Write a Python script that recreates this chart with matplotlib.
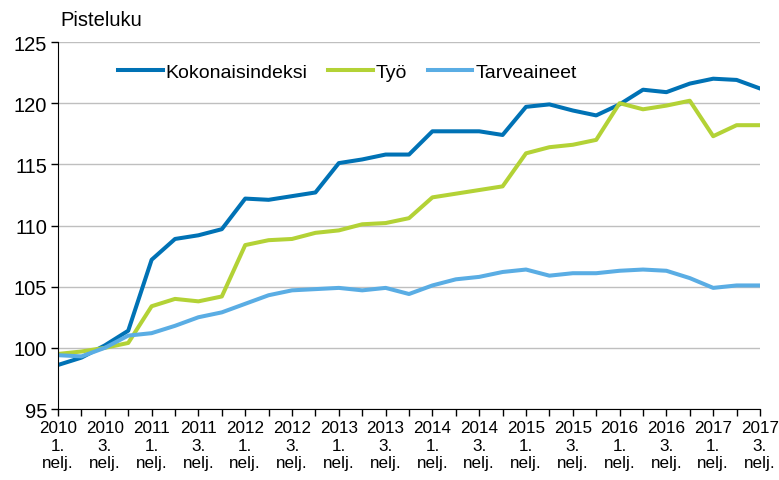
import matplotlib.pyplot as plt

plt.rcParams['font.family'] = ['Liberation Sans', 'DejaVu Sans']

# Neljännekset 2010 Q1 - 2017 Q3
years = list(range(2010, 2018))
quarters = [(y, q) for y in years for q in (1, 2, 3, 4)][:31]

kokonais = [98.6, 99.2, 100.2, 101.4,
            107.2, 108.9, 109.2, 109.7,
            112.2, 112.1, 112.4, 112.7,
            115.1, 115.4, 115.8, 115.8,
            117.7, 117.7, 117.7, 117.4,
            119.7, 119.9, 119.4, 119.0,
            119.9, 121.1, 120.9, 121.6,
            122.0, 121.9, 121.2]
tyo = [99.5, 99.7, 100.0, 100.4,
       103.4, 104.0, 103.8, 104.2,
       108.4, 108.8, 108.9, 109.4,
       109.6, 110.1, 110.2, 110.6,
       112.3, 112.6, 112.9, 113.2,
       115.9, 116.4, 116.6, 117.0,
       120.0, 119.5, 119.8, 120.2,
       117.3, 118.2, 118.2]
tarveaineet = [99.4, 99.3, 100.0, 101.0,
               101.2, 101.8, 102.5, 102.9,
               103.6, 104.3, 104.7, 104.8,
               104.9, 104.7, 104.9, 104.4,
               105.1, 105.6, 105.8, 106.2,
               106.4, 105.9, 106.1, 106.1,
               106.3, 106.4, 106.3, 105.7,
               104.9, 105.1, 105.1]

tick_labels = [f"{y}\n{q}.\nnelj." if q in (1, 3) else "" for y, q in quarters]

fig = plt.figure(figsize=(7.79, 4.81), dpi=100)
ax = fig.add_axes([0.0745, 0.1476, 0.9011, 0.763])

x = list(range(len(quarters)))
ax.plot(x, kokonais, color='#0072B5', lw=2.9, label='Kokonaisindeksi')
ax.plot(x, tyo, color='#B3D236', lw=2.9, label='Työ')
ax.plot(x, tarveaineet, color='#5AADE4', lw=2.9, label='Tarveaineet')

ax.set_xlim(0, len(quarters) - 1)
ax.set_ylim(95, 125)
ax.set_yticks([95, 100, 105, 110, 115, 120, 125])
ax.set_xticks(x)
ax.set_xticklabels(tick_labels, fontsize=12.3, linespacing=1.2)
ax.tick_params(axis='y', labelsize=14.5, length=5, width=1, direction='out', pad=3)
ax.tick_params(axis='x', length=5, width=1, direction='out', pad=3)

ax.grid(axis='y', color='#BFBFBF', lw=1)
ax.set_axisbelow(True)
for s in ('top', 'right'):
    ax.spines[s].set_visible(False)
ax.spines['left'].set_color('black')
ax.spines['bottom'].set_color('black')

fig.text(60 / 779, 1 - 21 / 481, 'Pisteluku', fontsize=14.5, va='center', ha='left')

ax.legend(loc='center left', bbox_to_anchor=(0.0855, 0.918), ncol=3, frameon=False,
          fontsize=14, handlelength=2.3, handletextpad=0.15, columnspacing=1.05,
          borderpad=0, borderaxespad=0)

fig.savefig('out.png', dpi=100)
